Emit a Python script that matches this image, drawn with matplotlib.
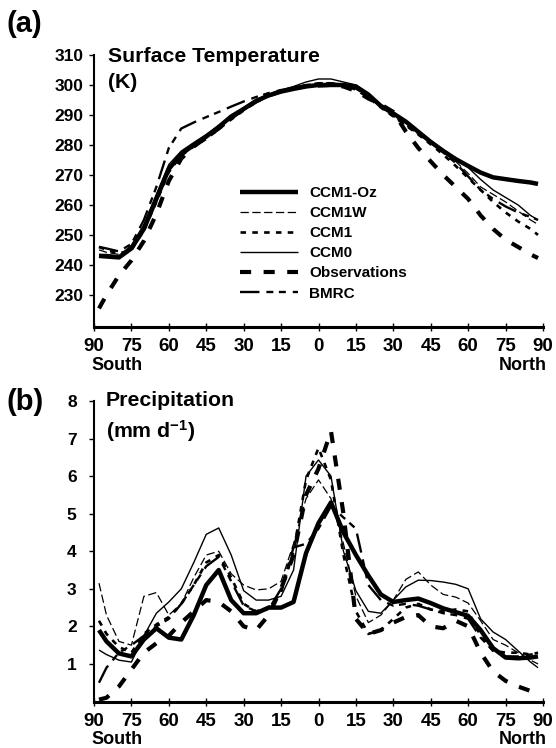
import matplotlib
matplotlib.use('Agg')
import matplotlib.pyplot as plt

plt.rcParams['font.family'] = ['Liberation Sans', 'DejaVu Sans']
plt.rcParams['font.weight'] = 'bold'
plt.rcParams['mathtext.fontset'] = 'custom'
plt.rcParams['mathtext.rm'] = 'Liberation Sans:bold'
plt.rcParams['mathtext.it'] = 'Liberation Sans:bold'
plt.rcParams['mathtext.bf'] = 'Liberation Sans:bold'
plt.rcParams['lines.scale_dashes'] = False

# ---------------- data ----------------
latitudes = [-88, -85, -80, -75, -70, -65, -60, -55, -50, -45, -40, -35, -30, -25,
             -20, -15, -10, -5, 0, 5, 10, 15, 20, 25, 30, 35, 40, 45, 50, 55, 60,
             65, 70, 75, 80, 85, 88]

series_names = ['CCM1-Oz', 'CCM1W', 'CCM1', 'CCM0', 'Observations', 'BMRC']

temp_ccm1oz = [243, 242.8, 242.5, 245.5, 252, 262, 272, 277, 280, 282.8, 286, 289.5,
               292, 294.7, 296.5, 297.8, 298.7, 299.5, 300, 300, 300, 299.5, 296.8,
               293, 290.5, 287.8, 284.4, 281, 278, 275.3, 273, 270.8, 269.2, 268.6,
               268, 267.5, 267]
temp_ccm1w = [245, 244.2, 243.5, 245.5, 252.5, 262.5, 272.5, 277.5, 280.2, 282.8, 286,
              289, 292, 294.5, 296.5, 298, 299, 300, 300.8, 300.8, 300.2, 299, 296,
              292.5, 289.5, 286.5, 283.5, 280.5, 277.5, 274.5, 270.5, 266, 263.5,
              261, 258, 255, 253.5]
temp_ccm1 = [246, 245, 243.8, 245, 251.5, 261, 271, 276.5, 279.5, 282, 285.3, 288.5,
             291.5, 294.3, 296.3, 297.8, 299, 299.8, 300.2, 300.4, 299.8, 298.5, 295.8,
             292.5, 289.5, 286.5, 283.5, 280.2, 276.8, 273, 269, 265, 261, 257.5,
             254.5, 252, 250]
temp_ccm0 = [243.5, 243.5, 243, 246.5, 253.5, 263.5, 273.5, 278, 280.8, 283.5, 286.5,
             289.5, 292.5, 295, 296.8, 298.2, 299.5, 301, 302, 302, 301, 300, 297,
             293.5, 290.5, 287.5, 284.5, 281.5, 278.5, 275.5, 272.5, 268.5, 265,
             262.5, 260, 256.5, 255]
temp_obs = [225.5, 230, 236.5, 241.5, 248, 257, 268, 275.5, 279.5, 282.5, 285.5, 289,
            292, 294.5, 296.5, 298, 299, 299.5, 299.8, 300, 299.5, 298, 295.5, 293.5,
            291, 284.5, 279, 274.5, 270, 266, 262, 256.5, 252, 248.4, 246, 243.5,
            242.3]
temp_bmrc = [246, 245.5, 244.5, 247, 255, 266, 279, 285.5, 287.5, 289.3, 291, 292.8,
             294.5, 296, 297.3, 298.3, 299.2, 300, 300.5, 300.6, 300, 298.8, 296.2,
             293, 290, 287, 284, 281, 277.5, 274, 269.5, 265, 262, 259.5, 257.5, 256,
             255]

prec_ccm1oz = [1.9, 1.6, 1.28, 1.2, 1.65, 1.95, 1.7, 1.65, 2.3, 3.1, 3.5, 2.7, 2.35,
               2.35, 2.5, 2.5, 2.65, 3.95, 4.75, 5.3, 4.5, 3.9, 3.35, 2.85, 2.65, 2.7,
               2.74, 2.62, 2.48, 2.38, 2.28, 1.9, 1.42, 1.17, 1.15, 1.17, 1.2]
prec_ccm1w = [3.15, 2.3, 1.6, 1.5, 2.8, 2.9, 2.3, 2.6, 3.3, 3.9, 4.0, 3.4, 3.1, 2.97,
              3.0, 3.2, 4.2, 5.4, 5.9, 5.4, 4.2, 2.8, 2.1, 2.3, 2.7, 3.25, 3.45, 3.1,
              2.85, 2.78, 2.62, 2.15, 1.65, 1.5, 1.3, 1.1, 1.0]
prec_ccm1 = [2.15, 1.8, 1.45, 1.3, 1.8, 2.05, 2.25, 2.6, 3.1, 3.7, 3.9, 3.3, 2.6, 2.4,
             2.5, 2.9, 4.0, 5.9, 6.75, 5.9, 3.9, 2.4, 1.8, 1.9, 2.2, 2.5, 2.6, 2.45,
             2.4, 2.45, 2.4, 1.75, 1.35, 1.3, 1.3, 1.25, 1.3]
prec_ccm0 = [1.37, 1.25, 1.1, 1.05, 1.75, 2.35, 2.65, 3.0, 3.7, 4.45, 4.62, 3.9, 2.95,
             2.7, 2.7, 2.8, 3.5, 6.0, 6.43, 6.0, 4.0, 2.95, 2.4, 2.35, 2.7, 3.05, 3.23,
             3.22, 3.18, 3.12, 3.0, 2.2, 1.85, 1.65, 1.35, 1.05, 0.9]
prec_obs = [0.05, 0.1, 0.4, 0.85, 1.3, 1.55, 1.75, 2.1, 2.4, 2.7, 2.65, 2.4, 2.0, 1.9,
            2.3, 3.0, 3.9, 5.5, 6.2, 7.2, 5.0, 2.2, 1.8, 1.9, 2.1, 2.25, 2.3, 2.0, 1.95,
            2.15, 2.0, 1.3, 0.8, 0.55, 0.4, 0.28, 0.25]
prec_bmrc = [0.5, 0.9, 1.3, 1.5, 1.75, 2.0, 2.2, 2.6, 3.1, 3.6, 3.85, 3.2, 2.55, 2.4,
             2.45, 3.0, 4.1, 4.2, 4.6, 5.2, 4.9, 4.6, 3.1, 2.7, 2.55, 2.6, 2.55, 2.45,
             2.35, 2.3, 2.2, 1.7, 1.35, 1.2, 1.2, 1.25, 1.3]

temp_series = [temp_ccm1oz, temp_ccm1w, temp_ccm1, temp_ccm0, temp_obs, temp_bmrc]
prec_series = [prec_ccm1oz, prec_ccm1w, prec_ccm1, prec_ccm0, prec_obs, prec_bmrc]

x_ticks = list(range(-90, 91, 15))
x_ticklabels = [str(abs(v)) for v in x_ticks]
temp_ticks = list(range(230, 311, 10))
prec_ticks = list(range(1, 9))

styles = [
    dict(lw=3.2, ls='-'),
    dict(lw=0.9, dashes=(6, 2.5)),
    dict(lw=1.9, dashes=(4, 4.5)),
    dict(lw=1.0, ls='-'),
    dict(lw=3.0, dashes=(8, 9)),
    dict(lw=1.7, dashes=(14, 5, 5, 4, 5, 5)),
]

# ---------------- figure ----------------
W, H = 556, 748
fig = plt.figure(figsize=(W / 100, H / 100), dpi=100)


def fx(p):
    return p / W


def fy(p):
    return 1 - p / H


def style_axes(ax, ypad):
    for s in ['top', 'right']:
        ax.spines[s].set_visible(False)
    ax.spines['left'].set_linewidth(1.5)
    ax.spines['bottom'].set_linewidth(2.2)
    ax.set_xlim(-90, 90)
    ax.set_xticks(x_ticks)
    ax.set_xticklabels(x_ticklabels)
    ax.tick_params(axis='x', direction='inout', length=6, width=1.0, pad=5.0,
                   labelsize=13.5)
    ax.tick_params(axis='y', direction='out', length=3.5, width=1.0, pad=ypad,
                   labelsize=12.5)
    for lab in ax.get_xticklabels() + ax.get_yticklabels():
        lab.set_fontweight('bold')


ax1 = fig.add_axes([fx(94), fy(327), (543 - 94) / W, (327 - 55) / H])
ax2 = fig.add_axes([fx(94), fy(701.5), (543 - 94) / W, (701.5 - 401) / H])

lines = []
for name, vals, st in zip(series_names, temp_series, styles):
    ln, = ax1.plot(latitudes, vals, color='black', label=name,
                   solid_capstyle='butt', dash_capstyle='butt', **st)
    lines.append(ln)
ax1.set_ylim(219.3, 310)
ax1.set_yticks(temp_ticks)
style_axes(ax1, 4.0)

for name, vals, st in zip(series_names, prec_series, styles):
    ax2.plot(latitudes, vals, color='black', label=name,
             solid_capstyle='butt', dash_capstyle='butt', **st)
ax2.set_ylim(0, 8)
ax2.set_yticks(prec_ticks)
style_axes(ax2, 9.0)

leg = ax1.legend(handles=lines, loc='upper left',
                 bbox_to_anchor=(fx(240), fy(186)), bbox_transform=fig.transFigure,
                 frameon=False, borderpad=0, borderaxespad=0, handlelength=3.8,
                 handletextpad=0.72, labelspacing=0.4,
                 prop=dict(family='Liberation Sans', weight='bold', size=11))

# texts
fig.text(fx(6), fy(24), '(a)', fontsize=21, fontweight='bold', va='center', ha='left')
fig.text(fx(7), fy(402), '(b)', fontsize=21, fontweight='bold', va='center', ha='left')
fig.text(fx(108), fy(56), 'Surface Temperature', fontsize=15.3, fontweight='bold',
         va='center', ha='left')
fig.text(fx(108), fy(83), '(K)', fontsize=15.3, fontweight='bold', va='center', ha='left')
fig.text(fx(105.5), fy(401), 'Precipitation', fontsize=15.3, fontweight='bold',
         va='center', ha='left')
fig.text(fx(105.5), fy(431), r'(mm d$^{-1}$)', fontsize=15.3, fontweight='bold',
         va='center', ha='left')

for yy in (366, 740):
    fig.text(fx(117), fy(yy), 'South', fontsize=13, fontweight='bold',
             va='center', ha='center')
    fig.text(fx(523), fy(yy), 'North', fontsize=13, fontweight='bold',
             va='center', ha='center')

fig.savefig('out.png', dpi=100)
